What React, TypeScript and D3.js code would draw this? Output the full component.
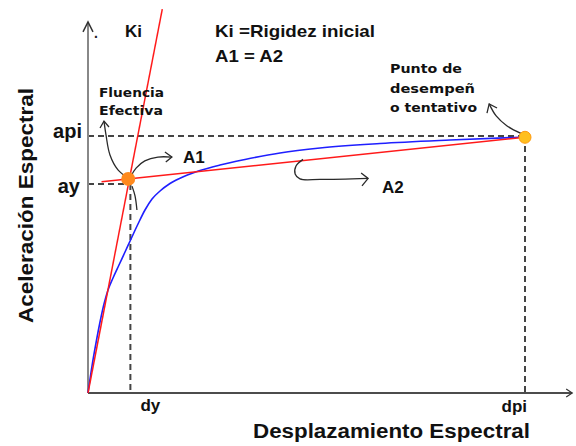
import React from "react";
import * as d3 from "d3";

// ---- data (spectral displacement d, spectral acceleration a; dpi = 1, api = 1) ----
const capDisp = [0, 0.00915, 0.0183, 0.0275, 0.0366, 0.0458, 0.0572, 0.0709, 0.0847, 0.0984, 0.1144, 0.1304, 0.1465, 0.1648, 0.1876, 0.222, 0.2563, 0.302, 0.3593, 0.4394, 0.5309, 0.6682, 0.8284, 1];
const capAcc = [0, 0.105, 0.1946, 0.2763, 0.3463, 0.4008, 0.4475, 0.498, 0.5486, 0.5992, 0.6576, 0.7121, 0.7549, 0.786, 0.8152, 0.8444, 0.8658, 0.8872, 0.9086, 0.9339, 0.9533, 0.9708, 0.9844, 0.9961];

const kiDisp = [0, 0.17];
const kiAcc = [0, 1.494];
const postDisp = [0.031, 1];
const postAcc = [0.822, 0.995];

const dyVal = 0.097;
const ayVal = 0.813;
const dpiVal = 1;
const apiVal = 1;
const yieldPt = [0.092, 0.833];
const perfPt = [1, 0.995];
const axisMax = [1.108, 1.444];

const tickLabelsX = ["dy", "dpi"];
const tickLabelsY = ["ay", "api"];

// hand-drawn annotation arrows (data units)
const arrowFluenciaD = [0.0915, 0.0686, 0.0503, 0.0412, 0.0366];
const arrowFluenciaA = [0.837, 0.868, 0.926, 1.004, 1.058];
const headFluenciaD = [0.0275, 0.0366, 0.048];
const headFluenciaA = [1.031, 1.058, 1.035];

const arrowA1D = [0.0984, 0.11, 0.13, 0.16, 0.192];
const arrowA1A = [0.844, 0.875, 0.903, 0.918, 0.918];
const headA1D = [0.176, 0.192, 0.178];
const headA1A = [0.938, 0.918, 0.899];

const tailD = [0.1007, 0.1076, 0.112];
const tailA = [0.805, 0.767, 0.712];

const arrowA2D = [0.492, 0.476, 0.474, 0.485, 0.531, 0.641];
const arrowA2A = [0.909, 0.883, 0.852, 0.833, 0.831, 0.835];
const headA2D = [0.625, 0.641, 0.627];
const headA2A = [0.856, 0.835, 0.806];

const arrowPuntoD = [0.993, 0.959, 0.934, 0.918];
const arrowPuntoA = [1.008, 1.039, 1.078, 1.125];
const headPuntoD = [0.913, 0.918, 0.936];
const headPuntoA = [1.089, 1.125, 1.109];

const W = 576;
const H = 446;

const x = d3.scaleLinear().domain([0, 1]).range([88, 525]);
const y = d3.scaleLinear().domain([0, 1]).range([393, 136]);

const zip = (a: number[], b: number[]) => a.map((v, i) => [v, b[i]] as [number, number]);

const lineMono = d3
  .line<[number, number]>()
  .x((p) => x(p[0]))
  .y((p) => y(p[1]))
  .curve(d3.curveMonotoneX);
const lineSmooth = d3
  .line<[number, number]>()
  .x((p) => x(p[0]))
  .y((p) => y(p[1]))
  .curve(d3.curveCatmullRom.alpha(0.5));
const lineStraight = d3
  .line<[number, number]>()
  .x((p) => x(p[0]))
  .y((p) => y(p[1]));

const ARIAL = "'Liberation Sans', Arial, sans-serif";
const VERD = "'DejaVu Sans', Verdana, sans-serif";

export default function App() {
  const dash = "6,4";
  const dashColor = "#444";
  const arrowStyle = { fill: "none", stroke: "#2a2a2a", strokeWidth: 1.3 };
  return (
    <svg width={W} height={H} style={{ position: "absolute", left: 0, top: 0, background: "#fff" }}>
      {/* dashed guides */}
      <line x1={x(0)} x2={x(dpiVal)} y1={y(apiVal)} y2={y(apiVal)} stroke={dashColor} strokeWidth={2} strokeDasharray={dash} />
      <line x1={x(dpiVal)} x2={x(dpiVal)} y1={y(apiVal)} y2={y(0)} stroke={dashColor} strokeWidth={2} strokeDasharray={dash} />
      <line x1={x(0)} x2={x(yieldPt[0])} y1={y(ayVal)} y2={y(ayVal)} stroke={dashColor} strokeWidth={2} strokeDasharray={dash} />
      <line x1={x(dyVal)} x2={x(dyVal)} y1={y(ayVal)} y2={y(0)} stroke={dashColor} strokeWidth={2} strokeDasharray={dash} />

      {/* axes */}
      <line x1={x(0)} x2={x(0)} y1={y(0)} y2={y(axisMax[1])} stroke="#888" strokeWidth={2} />
      <path d={`M${x(0) - 5},${y(axisMax[1]) + 10} L${x(0)},${y(axisMax[1])} L${x(0) + 5},${y(axisMax[1]) + 10}`} fill="none" stroke="#333" strokeWidth={1.5} />
      <line x1={x(0)} x2={x(axisMax[0])} y1={y(0)} y2={y(0)} stroke="#111" strokeWidth={1.6} />
      <path d={`M${x(axisMax[0]) - 6},${y(0) - 4} L${x(axisMax[0])},${y(0)} L${x(axisMax[0]) - 6},${y(0) + 4}`} fill="none" stroke="#333" strokeWidth={1.2} />

      {/* curves */}
      <path d={lineMono(zip(capDisp, capAcc)) || ""} fill="none" stroke="#1f1fff" strokeWidth={1.6} />
      <path d={lineStraight(zip(kiDisp, kiAcc)) || ""} fill="none" stroke="#ff1a1a" strokeWidth={1.5} />
      <path d={lineStraight(zip(postDisp, postAcc)) || ""} fill="none" stroke="#ff1a1a" strokeWidth={1.5} />

      {/* annotation arrows */}
      <path d={lineSmooth(zip(arrowFluenciaD, arrowFluenciaA)) || ""} style={arrowStyle} />
      <path d={lineStraight(zip(headFluenciaD, headFluenciaA)) || ""} style={arrowStyle} />
      <path d={lineSmooth(zip(arrowA1D, arrowA1A)) || ""} style={arrowStyle} />
      <path d={lineStraight(zip(headA1D, headA1A)) || ""} style={arrowStyle} />
      <path d={lineSmooth(zip(tailD, tailA)) || ""} style={arrowStyle} />
      <path d={lineSmooth(zip(arrowA2D, arrowA2A)) || ""} style={arrowStyle} />
      <path d={lineStraight(zip(headA2D, headA2A)) || ""} style={arrowStyle} />
      <path d={lineSmooth(zip(arrowPuntoD, arrowPuntoA)) || ""} style={arrowStyle} />
      <path d={lineStraight(zip(headPuntoD, headPuntoA)) || ""} style={arrowStyle} />

      {/* points */}
      <circle cx={x(yieldPt[0])} cy={y(yieldPt[1])} r={7} fill="#ff8a1e" />
      <circle cx={x(perfPt[0])} cy={y(perfPt[1])} r={6} fill="#ffbf1f" stroke="#ff9a10" strokeWidth={1} />

      {/* tick labels */}
      <text x={82} y={y(apiVal) + 2} textAnchor="end" fontFamily={ARIAL} fontWeight="bold" fontSize={20} fill="#111">{tickLabelsY[1]}</text>
      <text x={80} y={y(ayVal) + 9} textAnchor="end" fontFamily={ARIAL} fontWeight="bold" fontSize={20} fill="#111">{tickLabelsY[0]}</text>
      <text x={x(dyVal) + 20} y={411} textAnchor="middle" fontFamily={ARIAL} fontWeight="bold" fontSize={17} fill="#111">{tickLabelsX[0]}</text>
      <text x={x(dpiVal) + 2} y={412} textAnchor="end" fontFamily={ARIAL} fontWeight="bold" fontSize={17} fill="#111">{tickLabelsX[1]}</text>

      {/* axis titles */}
      <text x={253} y={438} fontFamily={ARIAL} fontWeight="bold" fontSize={20} fill="#111" textLength={277} lengthAdjust="spacingAndGlyphs">Desplazamiento Espectral</text>
      <text transform={`translate(33,323) rotate(-90)`} x={0} y={0} fontFamily={ARIAL} fontWeight="bold" fontSize={20} fill="#111" textLength={235} lengthAdjust="spacingAndGlyphs">Aceleración Espectral</text>

      {/* texts */}
      <text x={94} y={38} fontFamily={ARIAL} fontWeight="bold" fontSize={14} fill="#222">.</text>
      <text x={125} y={37} fontFamily={ARIAL} fontWeight="bold" fontSize={17} fill="#111">Ki</text>
      <text x={215} y={37} fontFamily={ARIAL} fontWeight="bold" fontSize={17} fill="#111" textLength={160} lengthAdjust="spacingAndGlyphs">Ki =Rigidez inicial</text>
      <text x={215} y={62} fontFamily={ARIAL} fontWeight="bold" fontSize={17} fill="#111" textLength={68} lengthAdjust="spacingAndGlyphs">A1 = A2</text>
      <text x={183} y={163} fontFamily={ARIAL} fontWeight="bold" fontSize={17} fill="#111">A1</text>
      <text x={382} y={193} fontFamily={ARIAL} fontWeight="bold" fontSize={17} fill="#111">A2</text>

      <text x={99} y={97} fontFamily={VERD} fontWeight="bold" fontSize={13} fill="#111" textLength={65} lengthAdjust="spacingAndGlyphs">Fluencia</text>
      <text x={99} y={115} fontFamily={VERD} fontWeight="bold" fontSize={13} fill="#111" textLength={64} lengthAdjust="spacingAndGlyphs">Efectiva</text>

      <text x={390} y={73} fontFamily={VERD} fontWeight="bold" fontSize={13} fill="#111" textLength={72} lengthAdjust="spacingAndGlyphs">Punto de</text>
      <text x={390} y={93} fontFamily={VERD} fontWeight="bold" fontSize={13} fill="#111" textLength={85} lengthAdjust="spacingAndGlyphs">desempeñ</text>
      <text x={390} y={112} fontFamily={VERD} fontWeight="bold" fontSize={13} fill="#111" textLength={87} lengthAdjust="spacingAndGlyphs">o tentativo</text>
    </svg>
  );
}
